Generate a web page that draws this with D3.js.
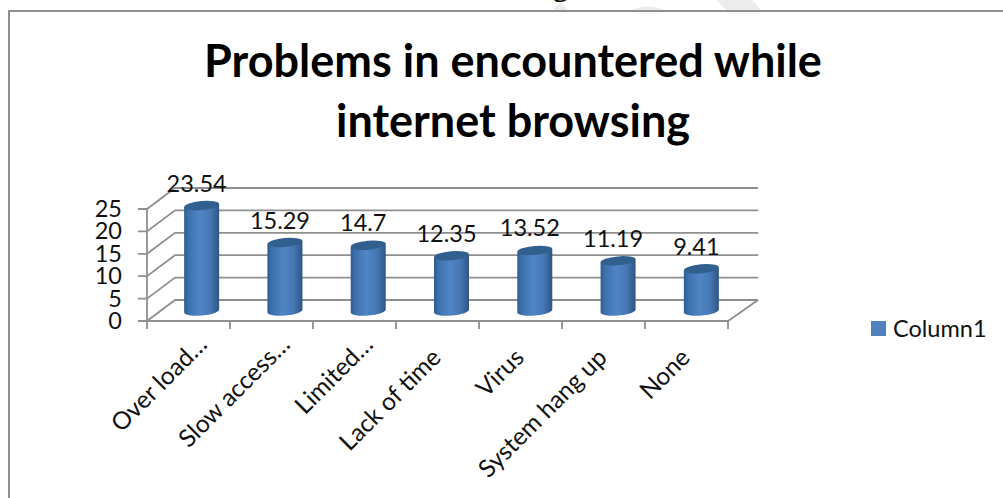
<!DOCTYPE html>
<html><head><meta charset="utf-8">
<script src="https://cdnjs.cloudflare.com/ajax/libs/d3/7.8.5/d3.min.js"></script>
<style>html,body{margin:0;padding:0;background:#fff}svg{display:block}</style></head>
<body><svg id="c" width="1003" height="498"></svg>
<script>
const categories=["Over load…","Slow access…","Limited…","Lack of time","Virus","System hang up","None"];
const values=[23.54,15.29,14.7,12.35,13.52,11.19,9.41];
const labels=["23.54","15.29","14.7","12.35","13.52","11.19","9.41"];
const yTicks=[0,5,10,15,20,25];
const seriesName="Column1";
const titleLines=["Problems in encountered while","internet browsing"];
const font="Lato, 'Open Sans', sans-serif";
const svg=d3.select("#c");
const defs=svg.append("defs");
const g=defs.append("linearGradient").attr("id","cyl");
[[0,"#2f5b8c"],[.12,"#3c70ac"],[.45,"#5085c6"],[.75,"#4577b4"],[1,"#2e5585"]].forEach(s=>g.append("stop").attr("offset",s[0]).attr("stop-color",s[1]));

// faint watermark fragments and the cut-off word above the chart
svg.append("g").attr("fill","#ececec").selectAll("path")
 .data(["M553,10L560,2L568,10Z","M630,10Q648,3 665,10Z","M717,0H752L761,10H726Z"]).join("path").attr("d",d=>d);
svg.append("text").text("g").attr("x",553).attr("y",-4).attr("font-family","Liberation Serif").attr("font-weight","bold").attr("font-size",30).attr("fill","#111");
// frame
svg.append("path").attr("d","M9,498V11H1003").attr("fill","none").attr("stroke","#8f8f8f").attr("stroke-width",2);

// title
svg.selectAll("text.t").data(titleLines).join("text").attr("class","t").text(d=>d)
 .attr("x",513).attr("y",(d,i)=>77+i*60).attr("text-anchor","middle")
 .attr("font-family",font).attr("font-weight","bold").attr("font-size",45).attr("fill","#000");

// scales
const x=d3.scaleBand().domain(categories).range([147,728]);
const xBack=d3.scaleBand().domain(categories).range([160,743]);
const y=d3.scaleLinear().domain([0,25]).range([321,209]);
const dx=28,dy=-21;
const axes=svg.append("g").attr("fill","none").attr("stroke","#8f8f8f").attr("stroke-width",1.8);
yTicks.forEach(t=>{
  axes.append("path").attr("d",`M138,${y(t)}H147L${147+dx},${y(t)+dy}H758`);
});
axes.append("path").attr("d",`M147,${y(0)}V${y(25)}`);
axes.append("path").attr("d",`M147,${y(0)}H728L758,${y(0)+dy}`);
[...categories.map(c=>x(c)),728].forEach(v=>axes.append("path").attr("d",`M${v},${y(0)}v8`));

// y tick labels
svg.selectAll("text.y").data(yTicks).join("text").attr("class","y").text(d=>d)
 .attr("x",122).attr("y",d=>y(d)+8).attr("text-anchor","end")
 .attr("font-family",font).attr("font-size",23.5).attr("fill","#111");

// cylinders
const base=311,k=(y(0)-y(25))/25,rx=17.5,ry=4.5,rot=-5;
const bars=svg.append("g").selectAll("g").data(categories).join("g")
 .attr("transform",c=>`translate(${xBack(c)+xBack.bandwidth()/2},0)`);
bars.append("path").attr("fill","url(#cyl)").attr("d",(c,i)=>{
  const t=base-values[i]*k;
  return `M${-rx},${t+1.5}V${base+1.5}A${rx},${ry} ${rot} 0 0 ${rx},${base-1.5}V${t-1.5}Z`;
});
bars.append("ellipse").attr("rx",rx).attr("ry",ry).attr("fill","#31608f")
 .attr("transform",(c,i)=>`translate(0,${base-values[i]*k}) rotate(${rot})`);

// value labels
bars.append("text").text((c,i)=>labels[i]).attr("y",(c,i)=>base-values[i]*k-14).attr("x",-5)
 .attr("text-anchor","middle").attr("font-family",font).attr("font-size",23.5).attr("fill","#111");

// category labels: truncated ones sit closer to the axis
const cut=d=>d.endsWith("…");
svg.selectAll("text.c").data(categories).join("text").attr("class","c").text(d=>d)
 .attr("transform",d=>`translate(${x(d)+x.bandwidth()/2+(cut(d)?20:5)},${cut(d)?346:359}) rotate(-45)`)
 .attr("text-anchor","end").attr("font-family",font).attr("font-size",24.5).attr("fill","#111");

// legend
svg.append("rect").attr("x",871).attr("y",321).attr("width",15).attr("height",15).attr("fill","#4f81bd");
svg.append("text").text(seriesName).attr("x",893).attr("y",337).attr("font-family",font).attr("font-size",23.5).attr("fill","#111");
</script></body></html>
